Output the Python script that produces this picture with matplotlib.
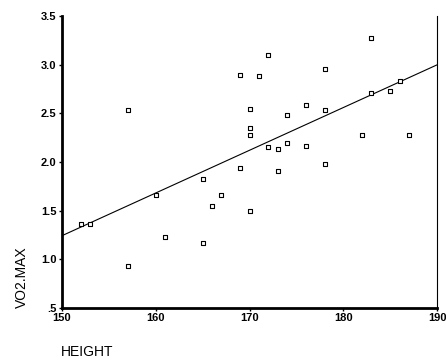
import numpy as np
import matplotlib.pyplot as plt

plt.rcParams['font.family'] = ['Liberation Sans', 'DejaVu Sans']

height = [157, 169, 172, 171, 183, 178, 186, 183, 185, 170, 176, 178, 174,
          170, 170, 182, 187, 172, 173, 174, 176, 169, 173, 178,
          165, 160, 152, 153, 167, 166, 161, 165, 157, 170]
vo2max = [2.53, 2.89, 3.10, 2.88, 3.27, 2.95, 2.83, 2.71, 2.73, 2.54, 2.58, 2.53, 2.48,
          2.35, 2.28, 2.28, 2.28, 2.15, 2.13, 2.19, 2.16, 1.94, 1.91, 1.98,
          1.82, 1.66, 1.36, 1.36, 1.66, 1.55, 1.23, 1.17, 0.93, 1.50]

x_ticks = [150, 160, 170, 180, 190]
y_ticks = [0.5, 1.0, 1.5, 2.0, 2.5, 3.0, 3.5]
y_labels = ['.5', '1.0', '1.5', '2.0', '2.5', '3.0', '3.5']

fig = plt.figure(figsize=(4.46, 3.61), dpi=100)
ax = fig.add_axes([0.139, 0.147, 0.841, 0.809])

ax.scatter(height, vo2max, marker='s', s=10, facecolors='white',
           edgecolors='black', linewidths=0.8, zorder=3)

# least squares line across the full x range
slope, intercept = np.polyfit(height, vo2max, 1)
xs = np.array([150, 190])
ax.plot(xs, intercept + slope * xs, color='black', linewidth=0.8)

ax.set_xlim(150, 190)
ax.set_ylim(0.5, 3.5)
ax.set_xticks(x_ticks)
ax.set_yticks(y_ticks)
ax.set_yticklabels(y_labels)
ax.tick_params(axis='both', labelsize=8, length=2, width=1, pad=2)
for lab in ax.get_xticklabels() + ax.get_yticklabels():
    lab.set_fontweight('bold')

ax.spines['top'].set_visible(False)
ax.spines['left'].set_linewidth(2)
ax.spines['bottom'].set_linewidth(2)
ax.spines['right'].set_linewidth(0.8)

fig.text(0.049, 0.147, 'VO2.MAX', rotation=90, ha='center', va='bottom', fontsize=10)
fig.text(0.137, 0.005, 'HEIGHT', ha='left', va='bottom', fontsize=10)

fig.savefig('out.png', dpi=100)
